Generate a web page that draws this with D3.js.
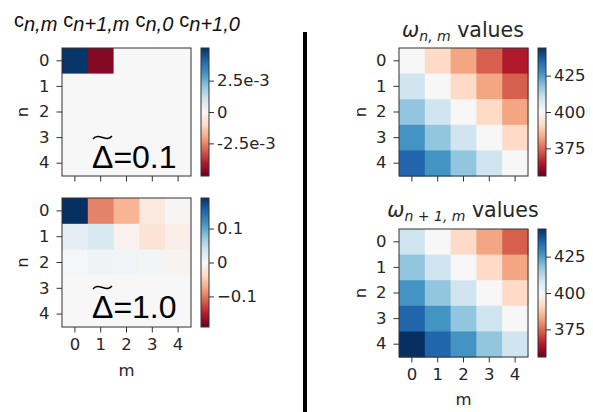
<!doctype html>
<html lang="en">
<head>
<meta charset="utf-8">
<title>coefficients and omega</title>
<script src="https://cdn.jsdelivr.net/npm/d3@7"></script>
<style>
    body { margin: 0; background: #fff; }
    svg text { font-family: "DejaVu Sans", sans-serif; fill: #262626; }
</style>
</head>
<body>
<svg width="593" height="412"></svg>
<script>
    var rows = [0, 1, 2, 3, 4];
    var cols = [0, 1, 2, 3, 4];

    // c values for delta = 0.1
    var cSmall = [
        [0.0050, -0.0047, 0, 0, 0],
        [0, 0, 0, 0, 0],
        [0, 0, 0, 0, 0],
        [0, 0, 0, 0, 0],
        [0, 0, 0, 0, 0]
    ];
    // c values for delta = 1.0
    var cLarge = [
        [0.190, -0.095, -0.065, -0.019, -0.003],
        [0.019, 0.030, -0.008, -0.027, -0.012],
        [0.002, 0.008, 0.006, 0.005, -0.005],
        [0, 0, 0, 0, 0],
        [0, 0, 0, 0, 0]
    ];
    var omegaNM = [
        [400.0, 391.2, 382.4, 373.6, 364.8],
        [408.8, 400.0, 391.2, 382.4, 373.6],
        [417.6, 408.8, 400.0, 391.2, 382.4],
        [426.4, 417.6, 408.8, 400.0, 391.2],
        [435.2, 426.4, 417.6, 408.8, 400.0]
    ];
    var omegaN1M = [
        [408.8, 400.0, 391.2, 382.4, 373.6],
        [417.6, 408.8, 400.0, 391.2, 382.4],
        [426.4, 417.6, 408.8, 400.0, 391.2],
        [435.2, 426.4, 417.6, 408.8, 400.0],
        [444.0, 435.2, 426.4, 417.6, 408.8]
    ];

    var cSmallTicks = [2.5e-3, 0, -2.5e-3];
    var cSmallLabels = ["2.5e-3", "0", "-2.5e-3"];
    var cLargeTicks = [0.1, 0, -0.1];
    var cLargeLabels = ["0.1", "0", "\u22120.1"];
    var omegaTicks = [425, 400, 375];
    var omegaLabels = ["425", "400", "375"];

    // matplotlib-like RdBu: straight segments through the 11 scheme colours
    var rdbu = d3.piecewise(d3.interpolateRgb, d3.schemeRdBu[11]);

    var svg = d3.select("svg");
    var defs = svg.append("defs");
    var gradId = 0;

    function styleAxis(ax) {
        ax.select(".domain").remove();
        ax.selectAll("line").attr("stroke", "#333");
        ax.selectAll("text")
            .style("font-family", "'DejaVu Sans', sans-serif")
            .style("font-size", "16.5px")
            .style("fill", "#262626");
    }

    function drawPanel(p) {
        var g = svg.append("g");
        var x = d3.scaleBand().domain(cols).range([p.x0, p.x1]);
        var y = d3.scaleBand().domain(rows).range([p.y0, p.y1]);
        var color = d3.scaleSequential(rdbu).domain([p.vmin, p.vmax]).clamp(true);

        var cells = [];
        p.data.forEach(function (r, i) {
            r.forEach(function (v, j) { cells.push({n: i, m: j, v: v}); });
        });

        g.selectAll("rect.cell")
            .data(cells)
            .enter().append("rect")
            .attr("class", "cell")
            .attr("x", function (d) { return x(d.m); })
            .attr("y", function (d) { return y(d.n); })
            .attr("width", x.bandwidth() + 0.5)
            .attr("height", y.bandwidth() + 0.5)
            .attr("fill", function (d) { return color(d.v); });

        g.append("rect")
            .attr("x", p.x0).attr("y", p.y0)
            .attr("width", p.x1 - p.x0).attr("height", p.y1 - p.y0)
            .attr("fill", "none").attr("stroke", "#333").attr("stroke-width", 1);

        var yAxis = g.append("g")
            .attr("transform", "translate(" + p.x0 + ",0)")
            .call(d3.axisLeft(y).tickSize(5.5).tickPadding(7));
        styleAxis(yAxis);

        var xAxis = g.append("g")
            .attr("transform", "translate(0," + p.y1 + ")")
            .call(d3.axisBottom(x).tickSize(5.5).tickPadding(6)
                .tickFormat(p.xLabels ? null : function () { return ""; }));
        styleAxis(xAxis);

        g.append("text")
            .attr("transform", "translate(" + p.nx + "," + ((p.y0 + p.y1) / 2) + ") rotate(-90)")
            .attr("text-anchor", "middle")
            .attr("dy", "0.35em")
            .style("font-size", "16.5px")
            .text("n");

        if (p.xLabels) {
            g.append("text")
                .attr("x", (p.x0 + p.x1) / 2)
                .attr("y", p.mY)
                .attr("text-anchor", "middle")
                .style("font-size", "16.5px")
                .text("m");
        }

        // colorbar
        var id = "grad" + (gradId++);
        var grad = defs.append("linearGradient").attr("id", id)
            .attr("x1", 0).attr("y1", 1).attr("x2", 0).attr("y2", 0);
        d3.range(0, 1.0001, 0.05).forEach(function (t) {
            grad.append("stop").attr("offset", t).attr("stop-color", rdbu(t));
        });
        var cy = d3.scaleLinear().domain([p.vmin, p.vmax]).range([p.y1, p.y0]);
        g.append("rect")
            .attr("x", p.cbx).attr("y", p.y0)
            .attr("width", 8).attr("height", p.y1 - p.y0)
            .attr("fill", "url(#" + id + ")")
            .attr("stroke", "#333").attr("stroke-width", 1);
        var cAxis = g.append("g")
            .attr("transform", "translate(" + (p.cbx + 8) + ",0)")
            .call(d3.axisRight(cy).tickValues(p.ticks).tickSize(5).tickPadding(3)
                .tickFormat(function (d, i) { return p.tickLabels[i]; }));
        styleAxis(cAxis);

        return g;
    }

    function deltaLabel(g, x0, base, txt) {
        g.append("text")
            .attr("x", x0).attr("y", base)
            .style("font-family", "'Liberation Sans', Arial, sans-serif")
            .style("font-size", "32px")
            .style("fill", "#000")
            .text("\u0394=" + txt);
        // tilde over the delta
        var w = 19, cx = x0 + 10.5, ty = base - 32;
        g.append("path")
            .attr("d", "M" + (cx - w / 2) + "," + (ty + 3) +
                " C" + (cx - w * 0.2) + "," + (ty - 4) + " " + (cx + w * 0.2) + "," + (ty + 7) + " " + (cx + w / 2) + "," + ty)
            .attr("fill", "none").attr("stroke", "#000").attr("stroke-width", 1.4);
    }

    var p1 = drawPanel({data: cSmall, vmin: -0.0051, vmax: 0.0051, x0: 62, x1: 191, y0: 48, y1: 176,
        cbx: 201, ticks: cSmallTicks, tickLabels: cSmallLabels, nx: 22, xLabels: false});
    deltaLabel(p1, 92, 168, "0.1");

    var p2 = drawPanel({data: cLarge, vmin: -0.19, vmax: 0.19, x0: 62, x1: 191, y0: 198, y1: 327,
        cbx: 201, ticks: cLargeTicks, tickLabels: cLargeLabels, nx: 22, xLabels: true, mY: 376});
    deltaLabel(p2, 92, 318, "1.0");

    drawPanel({data: omegaNM, vmin: 356, vmax: 444, x0: 399, x1: 528, y0: 48, y1: 176,
        cbx: 538, ticks: omegaTicks, tickLabels: omegaLabels, nx: 360, xLabels: false});

    drawPanel({data: omegaN1M, vmin: 356, vmax: 444, x0: 399, x1: 528, y0: 229, y1: 357,
        cbx: 538, ticks: omegaTicks, tickLabels: omegaLabels, nx: 360, xLabels: true, mY: 405});

    // titles
    var t1 = svg.append("text").attr("x", 14).attr("y", 27)
        .style("font-family", "'Liberation Sans', Arial, sans-serif").style("fill", "#111");
    [["c", "n,m"], ["c", "n+1,m"], ["c", "n,0"], ["c", "n+1,0"]].forEach(function (pair, i) {
        t1.append("tspan").attr("dx", i ? 6 : 0).attr("dy", i ? -4 : 0).style("font-size", "20px").text(pair[0]);
        t1.append("tspan").attr("dy", 4).style("font-size", "20px").style("font-style", "italic").text(pair[1]);
    });

    function omegaTitle(cx, base, sub) {
        var t = svg.append("text").attr("x", cx).attr("y", base).attr("text-anchor", "middle").style("font-size", "20.5px");
        t.append("tspan").style("font-style", "italic").text("\u03c9");
        t.append("tspan").attr("dy", 4).style("font-size", "14px").style("font-style", "italic").text(sub);
        t.append("tspan").attr("dy", -4).text(" values");
    }
    omegaTitle(463, 37, "n, m");
    omegaTitle(463, 217, "n + 1, m");

    // divider
    svg.append("line")
        .attr("x1", 305).attr("x2", 305)
        .attr("y1", 32).attr("y2", 412)
        .attr("stroke", "#000").attr("stroke-width", 4);
</script>
</body>
</html>
